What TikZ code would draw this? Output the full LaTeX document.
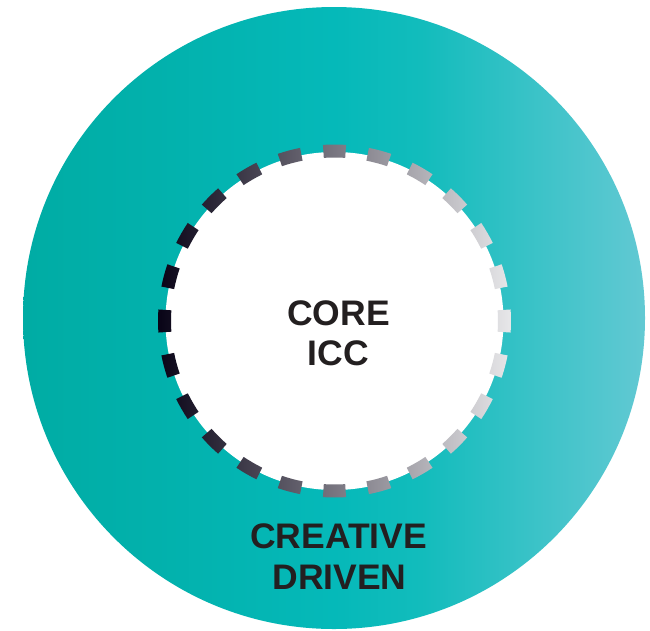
\documentclass[tikz,border=0pt]{standalone}
\usepackage{fontspec}
\setmainfont{Liberation Sans}
\definecolor{ringL}{HTML}{00ACA4}
\definecolor{ringM}{HTML}{05B9B9}
\definecolor{ringN}{HTML}{12BCBC}
\definecolor{ringR}{HTML}{62C9D3}
\definecolor{dashL}{HTML}{080316}
\definecolor{dashR}{HTML}{E8E8EA}
\definecolor{txt}{HTML}{231F20}
\pgfdeclarehorizontalshading{ringshade}{100bp}{
  color(0bp)=(ringL); color(25bp)=(ringL); color(36bp)=(ringL!60!ringM);
  color(50bp)=(ringM); color(57bp)=(ringN); color(75bp)=(ringR); color(100bp)=(ringR)}
\begin{document}
\begin{tikzpicture}[x=1pt,y=-1pt,
  label/.style={anchor=base,text=txt,font=\fontsize{35.5}{40}\selectfont\bfseries,inner sep=0pt}]
\useasboundingbox (0,0) rectangle (650,630);
\fill[white] (0,0) rectangle (650,630);
% outer ring
\shade[shading=ringshade] (334,318) circle[radius=311];
% inner white disc
\fill[white] (334.5,321) circle[radius=169];
% gradient dashes
\begin{scope}[shift={(334.5,321)}]
  \clip \foreach \a in {0,15,...,345}{
    (\a-3.75:176.5) arc[start angle=\a-3.75, delta angle=7.5, radius=176.5]
    -- (\a+3.75:163.5) arc[start angle=\a+3.75, delta angle=-7.5, radius=163.5] -- cycle};
  \shade[left color=dashL, right color=dashR] (-177,-180) rectangle (177,180);
\end{scope}
% texts
\node[label] (core) at (338.5,325) {CORE};
\node[label] (icc) at (338.5,365) {ICC};
\node[label] (creative) at (338.5,548) {CREATIVE};
\node[label] (driven) at (339.5,589) {DRIVEN};
\end{tikzpicture}
\end{document}
